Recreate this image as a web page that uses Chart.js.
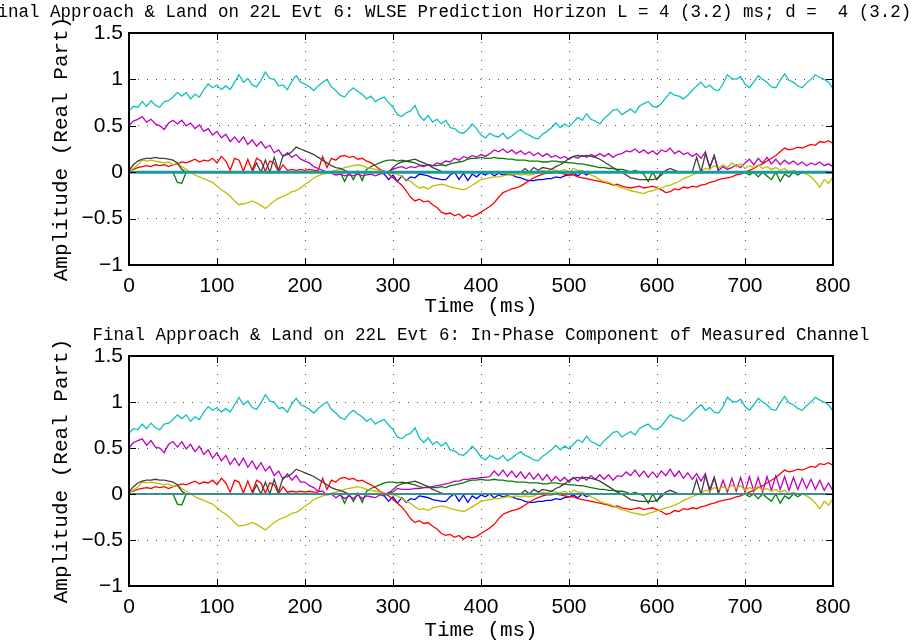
<!DOCTYPE html>
<html>
<head>
<meta charset="utf-8">
<script src="https://cdn.jsdelivr.net/npm/chart.js@4.4.1/dist/chart.umd.min.js"></script>
<style>
  html, body { margin: 0; padding: 0; background: #fff; overflow: hidden; }
  #wrap { position: relative; width: 921px; height: 643px; }
  canvas { position: absolute; left: 0; }
  #pred { top: 0; }
  #meas { top: 321px; }
</style>
</head>
<body>
<div id="wrap">
  <canvas id="pred" width="921" height="321"></canvas>
  <canvas id="meas" width="921" height="322"></canvas>
</div>
<script>
/* ---- data: one sample every 5 ms, 0..800 ms ------------------------ */
const TIME_MS = Array.from({ length: 161 }, (_, i) => i * 5);

const CYAN = [
  0.66,0.71,0.70,0.76,0.71,0.77,0.72,0.70,0.76,0.77,0.81,0.86,0.82,0.86,0.79,0.84,0.81,0.89,0.95,0.91,
  0.94,0.89,0.93,0.89,0.97,1.05,0.97,1.01,0.94,0.92,0.99,1.08,1.01,1.00,0.93,0.94,0.89,0.98,1.04,0.97,
  0.95,0.92,0.88,0.93,0.97,1.00,0.92,0.88,0.83,0.81,0.87,0.91,0.87,0.84,0.79,0.82,0.76,0.79,0.81,0.75,
  0.70,0.62,0.60,0.64,0.66,0.72,0.61,0.56,0.61,0.54,0.57,0.52,0.56,0.48,0.47,0.43,0.42,0.46,0.52,0.47,
  0.40,0.37,0.42,0.39,0.38,0.42,0.36,0.39,0.43,0.46,0.42,0.40,0.37,0.36,0.41,0.44,0.48,0.53,0.48,0.52,
  0.49,0.54,0.59,0.56,0.63,0.57,0.55,0.52,0.58,0.62,0.67,0.68,0.62,0.65,0.68,0.64,0.71,0.74,0.76,0.71,
  0.70,0.74,0.80,0.86,0.83,0.82,0.79,0.83,0.88,0.93,0.97,0.91,0.94,0.89,0.88,0.95,1.05,1.01,1.00,1.03,
  0.95,0.91,0.97,1.04,1.00,0.97,0.92,0.91,0.99,1.06,0.99,0.97,0.93,0.91,0.96,1.00,1.05,1.02,1.00,0.97,
  0.90
];

const MAGENTA_PRED = [
  0.50,0.55,0.57,0.60,0.54,0.57,0.52,0.50,0.46,0.53,0.56,0.52,0.56,0.50,0.53,0.47,0.51,0.44,0.47,0.40,
  0.44,0.37,0.41,0.33,0.38,0.32,0.38,0.30,0.35,0.28,0.33,0.26,0.29,0.21,0.24,0.17,0.21,0.16,0.19,0.14,
  0.12,0.10,0.06,0.04,0.02,0.00,-0.01,-0.03,-0.02,-0.04,-0.03,-0.04,-0.02,-0.04,-0.03,-0.02,-0.04,-0.02,-0.01,0.01,
  0.03,0.05,0.06,0.04,0.06,0.05,0.07,0.06,0.08,0.07,0.10,0.09,0.12,0.11,0.15,0.13,0.17,0.15,0.18,0.16,
  0.19,0.17,0.20,0.24,0.22,0.25,0.21,0.24,0.20,0.23,0.19,0.22,0.18,0.21,0.17,0.20,0.16,0.18,0.15,0.17,
  0.14,0.17,0.15,0.18,0.16,0.19,0.17,0.20,0.17,0.20,0.16,0.19,0.20,0.23,0.22,0.25,0.21,0.24,0.20,0.23,
  0.19,0.24,0.22,0.26,0.20,0.23,0.19,0.21,0.17,0.20,0.15,0.22,0.05,0.18,0.02,0.06,0.03,0.05,0.08,0.05,
  0.10,0.14,0.08,0.15,0.10,0.16,0.09,0.14,0.08,0.13,0.09,0.12,0.08,0.11,0.07,0.10,0.08,0.11,0.07,0.09,
  0.06
];

const MAGENTA_MEAS = [
  0.50,0.56,0.58,0.60,0.53,0.58,0.51,0.50,0.45,0.54,0.57,0.51,0.57,0.49,0.54,0.46,0.52,0.43,0.48,0.39,
  0.45,0.36,0.42,0.32,0.39,0.31,0.39,0.29,0.36,0.27,0.34,0.25,0.30,0.20,0.25,0.16,0.22,0.15,0.20,0.13,
  0.13,0.09,0.07,0.03,0.03,-0.01,0.00,-0.04,-0.01,-0.05,-0.02,-0.05,-0.01,-0.05,-0.02,-0.03,-0.04,-0.01,-0.02,0.02,
  0.02,0.06,0.05,0.05,0.05,0.06,0.06,0.07,0.07,0.08,0.09,0.10,0.11,0.12,0.14,0.14,0.16,0.16,0.17,0.17,
  0.18,0.18,0.19,0.25,0.20,0.26,0.19,0.25,0.18,0.24,0.17,0.23,0.16,0.22,0.15,0.21,0.14,0.19,0.14,0.18,
  0.13,0.18,0.14,0.19,0.15,0.20,0.16,0.21,0.16,0.21,0.15,0.20,0.19,0.24,0.20,0.26,0.19,0.25,0.18,0.24,
  0.18,0.25,0.20,0.27,0.19,0.25,0.17,0.23,0.16,0.22,0.14,0.22,0.02,0.18,0.01,0.15,0.02,0.17,0.03,0.18,
  0.02,0.19,0.03,0.18,0.02,0.19,0.04,0.20,0.05,0.19,0.04,0.18,0.05,0.17,0.06,0.16,0.05,0.15,0.04,0.12,
  0.03
];

const RED = [
  0.02,0.03,0.05,0.06,0.07,0.06,0.08,0.07,0.08,0.06,0.08,0.09,0.11,0.10,0.12,0.14,0.11,0.13,0.12,0.15,
  0.10,0.17,0.12,0.02,0.15,0.13,0.01,0.14,0.02,0.15,0.12,0.01,0.12,0.10,0.00,0.08,0.02,0.03,0.02,0.03,
  0.02,0.03,0.02,0.02,0.17,0.05,0.15,0.13,0.17,0.18,0.16,0.17,0.14,0.15,0.12,0.10,0.07,0.03,0.01,-0.02,
  -0.06,-0.10,-0.14,-0.20,-0.27,-0.31,-0.29,-0.32,-0.31,-0.35,-0.38,-0.43,-0.45,-0.44,-0.47,-0.45,-0.49,-0.46,-0.48,-0.46,
  -0.43,-0.40,-0.37,-0.33,-0.27,-0.22,-0.20,-0.18,-0.17,-0.15,-0.12,-0.09,-0.06,-0.04,-0.02,-0.01,-0.01,0.00,-0.01,-0.02,
  -0.03,-0.03,-0.05,-0.06,-0.07,-0.08,-0.09,-0.10,-0.11,-0.12,-0.14,-0.13,-0.15,-0.16,-0.17,-0.16,-0.15,-0.17,-0.16,-0.15,
  -0.17,-0.19,-0.22,-0.21,-0.18,-0.19,-0.16,-0.17,-0.15,-0.16,-0.14,-0.13,-0.11,-0.10,-0.08,-0.07,-0.06,-0.05,-0.03,-0.02,
  0.00,0.02,0.04,0.07,0.09,0.12,0.15,0.18,0.22,0.26,0.24,0.25,0.27,0.26,0.28,0.30,0.29,0.33,0.32,0.34,
  0.31
];

const YELLOW = [
  0.02,0.04,0.08,0.13,0.12,0.13,0.12,0.11,0.10,0.11,0.08,0.10,0.06,0.03,0.00,-0.03,-0.05,-0.07,-0.09,-0.11,
  -0.15,-0.19,-0.22,-0.26,-0.31,-0.35,-0.34,-0.33,-0.31,-0.33,-0.36,-0.39,-0.35,-0.31,-0.28,-0.26,-0.24,-0.21,-0.20,-0.17,
  -0.13,-0.10,-0.06,-0.04,-0.02,-0.01,0.01,0.02,0.03,0.05,0.06,0.07,0.08,0.07,0.05,0.04,0.03,0.02,0.01,0.00,
  -0.01,-0.02,-0.05,-0.08,-0.10,-0.14,-0.17,-0.16,-0.18,-0.15,-0.14,-0.13,-0.14,-0.16,-0.17,-0.18,-0.19,-0.17,-0.14,-0.11,
  -0.08,-0.07,-0.06,-0.05,-0.05,-0.04,-0.03,-0.03,-0.02,-0.03,-0.02,-0.03,-0.02,0.00,0.02,0.01,0.03,0.02,0.01,0.03,
  0.00,0.04,0.02,0.02,-0.01,-0.03,-0.05,-0.08,-0.10,-0.11,-0.13,-0.15,-0.17,-0.18,-0.20,-0.21,-0.22,-0.23,-0.21,-0.20,
  -0.18,-0.17,-0.15,-0.14,-0.12,-0.10,-0.07,-0.05,-0.03,-0.01,0.01,0.04,0.03,0.07,0.05,0.08,0.05,0.10,0.06,0.09,
  0.04,0.07,0.05,0.08,0.04,0.06,0.03,0.05,0.02,0.04,0.00,0.02,0.00,0.00,-0.02,-0.05,-0.10,-0.16,-0.08,-0.12,
  -0.05
];

const GREEN = [
  0,0,0,0,0,0,0,0,0,0,0,-0.11,-0.12,0,0,0,0,0,0,0,
  0,0,0,0,0,0,0,0,0,0,0,0,0,0,0,0,0,0,0,0,
  0,0,0,0,0,0,0,0,0,-0.10,0.00,-0.08,0.01,-0.09,0.03,0.06,0.08,0.10,0.12,0.13,
  0.13,0.12,0.13,0.12,0.11,0.10,0.08,0.07,0.08,0.07,0.07,0.08,0.07,0.09,0.10,0.11,0.12,0.14,0.15,0.15,
  0.16,0.15,0.15,0.16,0.15,0.15,0.14,0.14,0.13,0.13,0.13,0.12,0.12,0.12,0.11,0.11,0.12,0.12,0.11,0.11,
  0.10,0.10,0.09,0.09,0.08,0.07,0.06,0.05,0.05,0.04,0.04,0.03,0.03,0.02,0.00,0.02,0.00,-0.02,-0.10,0.00,
  -0.08,0,0,0,0,0,0,0,0,0,0,0,0,0,0,0,0,0,0,0,
  0,-0.03,0,-0.05,0,-0.04,-0.08,0,-0.10,-0.02,-0.05,0,-0.03,0,0,0,0,0,0,0,
  0
];

const BLACK = [
  0.02,0.08,0.12,0.14,0.15,0.15,0.16,0.15,0.15,0.14,0.13,0.10,0.03,0,0,0,0,0,0,0,
  0,0,0,0,0,0,0,0,0,0.10,0,0.13,0,0.16,0.02,0.18,0.19,0.22,0.27,0.25,
  0.23,0.21,0.19,0.16,0.13,0.10,0.07,0.05,0.04,0.02,0,0,0,0,0,0,0,0,0,0,
  0.05,0.09,0.11,0.12,0.13,0.14,0.12,0.10,0.08,0.05,0.03,0.01,0,0,0,0,0,0,0,0,
  0,0,0,0,0,0,0,0,0,0,0.04,0,0.05,0.02,0.05,0.04,0.03,0.06,0.08,0.11,
  0.15,0.17,0.18,0.17,0.18,0.17,0.16,0.14,0.11,0.08,0.05,0.02,0.00,-0.03,-0.06,-0.07,-0.08,-0.08,-0.08,-0.08,
  -0.07,-0.03,0.02,0.04,0.02,0,0,0,0,0.16,0,0.20,0.05,0.18,0,0,0,0,0,0,
  0,0,0,0,0,0,0,0,0,0,0,0,0,0,0,0,0,0,0,0,
  0
];

const BLUE = [
  0,0,0,0,0,0,0,0,0,0,0,0,0,0,0,0,0,0,0,0,
  0,0,0,0,0,0,0,0,0,0,0,0,0,0,0,0,0,0,0,0,
  0,0,0,0,0,0,0,0,0,0,0,0,0,0,0,0,0,0,-0.02,-0.08,
  -0.03,-0.10,-0.04,-0.09,-0.05,-0.06,-0.02,-0.03,-0.04,-0.06,-0.07,-0.08,-0.08,-0.03,0.00,-0.08,-0.01,-0.09,-0.02,-0.05,
  -0.01,-0.03,0.00,-0.04,-0.01,-0.03,-0.02,-0.03,-0.05,-0.06,-0.08,-0.09,-0.09,-0.08,-0.08,-0.07,-0.07,-0.05,-0.06,-0.04,
  -0.03,-0.01,-0.04,0.00,-0.03,0,0,0,0,0,0,0,0,0,0,0,0,0,0,0,
  0,0,0,0,0,0,0,0,0,0,0,0,0,0,0,0,0,0,0,0,
  0,0,0,0,0,0,0,0,0,0,0,0,0,0,0,0,0,0,0,0,
  0
];

const ZERO_T = [0, 800];
const ZERO_V = [0, 0];

const X_TICKS = [0, 100, 200, 300, 400, 500, 600, 700, 800];
const Y_TICKS = [-1, -0.5, 0, 0.5, 1, 1.5];

const TITLE_PRED = "Final Approach & Land on 22L Evt 6: WLSE Prediction Horizon L = 4 (3.2) ms; d =  4 (3.2) ms";
const TITLE_MEAS = "Final Approach & Land on 22L Evt 6: In-Phase Component of Measured Channel";

/* ---- style ---------------------------------------------------------- */
const MONO = "'Liberation Mono', 'DejaVu Sans Mono', monospace";
const SANS = "'Liberation Sans', Arial, sans-serif";
const TICK_LEN = 7;

function series(times, vals) {
  return vals.map((v, i) => ({ x: times[i], y: v }));
}

function line(vals, color, width) {
  return {
    data: series(TIME_MS, vals),
    borderColor: color, borderWidth: width || 1.3,
    pointRadius: 0, tension: 0, fill: false,
  };
}

/* frame, inner ticks and title, matlab style */
const framePlugin = {
  id: "frame",
  afterDatasetsDraw(chart, args, opts) {
    const { ctx, chartArea: a, scales: { x, y } } = chart;
    ctx.save();
    ctx.strokeStyle = "#000";
    ctx.lineWidth = 1;
    ctx.beginPath();
    X_TICKS.forEach((t) => {
      const px = Math.round(x.getPixelForValue(t)) + 0.5;
      ctx.moveTo(px, a.bottom); ctx.lineTo(px, a.bottom - TICK_LEN);
      ctx.moveTo(px, a.top);    ctx.lineTo(px, a.top + TICK_LEN);
    });
    Y_TICKS.forEach((t) => {
      const py = Math.round(y.getPixelForValue(t)) + 0.5;
      ctx.moveTo(a.left, py);  ctx.lineTo(a.left + TICK_LEN, py);
      ctx.moveTo(a.right, py); ctx.lineTo(a.right - TICK_LEN, py);
    });
    ctx.stroke();
    ctx.lineWidth = 2;
    ctx.strokeRect(a.left, a.top, a.right - a.left, a.bottom - a.top);

    ctx.fillStyle = "#000";
    ctx.font = "17.5px " + MONO;
    ctx.textBaseline = "middle";
    const ty = a.top - 21;
    if (opts.align === "left") {
      ctx.textAlign = "left";
      ctx.fillText(opts.text, opts.x, ty);
    } else {
      ctx.textAlign = "center";
      ctx.fillText(opts.text, (a.left + a.right) / 2, ty);
    }
    ctx.restore();
  },
};

function makeChart(id, magenta, zeroColor, zeroWidth, title, topPad, axisH, xTitlePad) {
  return new Chart(document.getElementById(id), {
    type: "line",
    data: {
      datasets: [
        { data: series(ZERO_T, ZERO_V), borderColor: zeroColor, borderWidth: zeroWidth, pointRadius: 0 },
        line(BLACK, "#404040"),
        line(YELLOW, "#bfbf00"),
        line(magenta, "#bf00bf"),
        line(CYAN, "#10c0c0"),
        line(RED, "#ff0000"),
        line(GREEN, "#008000"),
        line(BLUE, "#0000ff"),
      ],
    },
    options: {
      responsive: false,
      animation: false,
      events: [],
      layout: { padding: { top: topPad, right: 88, left: 0, bottom: 0 } },
      plugins: {
        legend: { display: false },
        tooltip: { enabled: false },
        frame: title,
      },
      scales: {
        x: {
          type: "linear", min: 0, max: 800,
          afterBuildTicks: (s) => { s.ticks = X_TICKS.map((v) => ({ value: v })); },
          afterFit: (s) => { s.height = axisH; },
          grid: { color: "#555", lineWidth: 1, drawTicks: false },
          border: { display: false, dash: [1, 8] },
          ticks: { color: "#000", font: { family: SANS, size: 21 }, padding: 9, maxRotation: 0 },
          title: { display: true, text: "Time (ms)", color: "#000",
                   font: { family: MONO, size: 21 }, padding: { top: 0, bottom: xTitlePad } },
        },
        y: {
          min: -1, max: 1.5,
          afterBuildTicks: (s) => { s.ticks = Y_TICKS.map((v) => ({ value: v })); },
          afterFit: (s) => { s.width = 129; },
          grid: { color: "#555", lineWidth: 1, drawTicks: false },
          border: { display: false, dash: [1, 8] },
          ticks: {
            color: "#000", font: { family: SANS, size: 21 }, padding: 6,
            callback: (v) => (v < 0 ? "\u2212" : "") + Math.abs(v),
          },
          title: { display: true, text: "Amplitude (Real Part)", color: "#000",
                   font: { family: MONO, size: 21 }, padding: { top: 49, bottom: 0 } },
        },
      },
    },
    plugins: [framePlugin],
  });
}

makeChart("pred", MAGENTA_PRED, "#1a9a9a", 3,
  { text: TITLE_PRED, align: "left", x: -13 }, 33, 56, 2);
makeChart("meas", MAGENTA_MEAS, "#3a8f8f", 2,
  { text: TITLE_MEAS, align: "center" }, 35, 57, 0);
</script>
</body>
</html>
